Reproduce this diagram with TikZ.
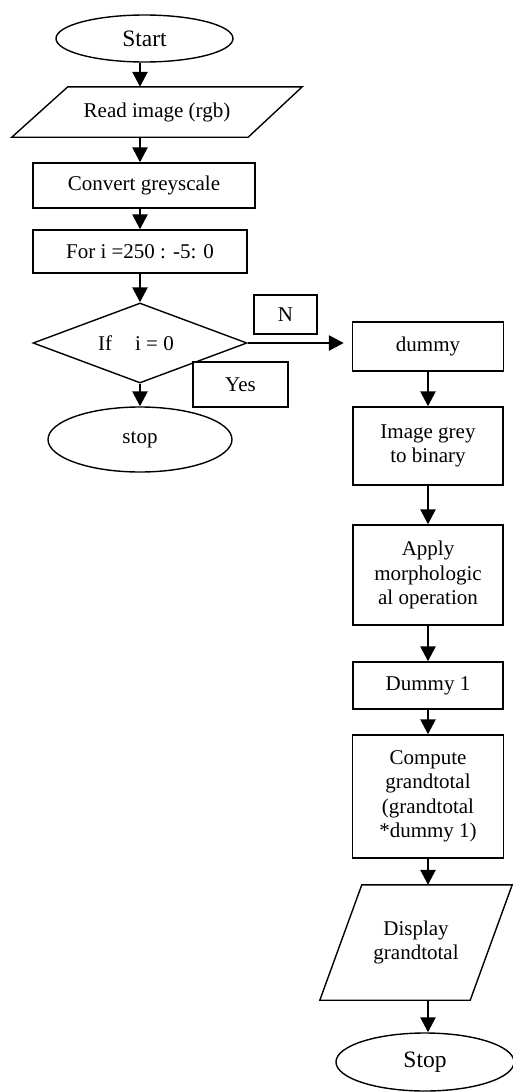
\documentclass[tikz,border=0pt]{standalone}
\usepackage{fontspec}
\setmainfont{Liberation Serif}
\usetikzlibrary{shapes.geometric,arrows.meta}
\begin{document}
\begin{tikzpicture}[x=1pt,y=-1pt,
  every node/.style={font=\fontsize{21}{24.5}\selectfont, inner sep=0pt, align=center},
  box/.style={draw, line width=1.4pt, rectangle, fill=white},
  term/.style={draw, line width=1.4pt, ellipse},
  big/.style={font=\fontsize{23.5}{27}\selectfont},
  dec/.style={draw, line width=1.4pt, diamond, aspect=2.7},
  io/.style={rectangle},
  ioline/.style={line width=1.4pt, line join=miter},
  arr/.style={line width=2.6pt, -{Triangle[length=15pt,width=15pt]}},
]
\fill[white] (0,0) rectangle (513,1092);
\useasboundingbox (0,0) rectangle (513,1092);

% left column
\node[term, big, minimum width=177pt, minimum height=47pt] (start) at (144.5,38.5) {Start};
\node[io, minimum width=290pt, minimum height=50pt] (read) at (157,112) {Read image (rgb)};
\draw[ioline] ([xshift=56pt]read.north west) -- (read.north east) -- ([xshift=-54pt]read.south east) -- (read.south west) -- cycle;
\node[box, minimum width=222pt, minimum height=45pt] (conv) at (144,185.5) {Convert greyscale};
\node[box, minimum width=214pt, minimum height=43pt] (for) at (140,251.5) {For i =250 : -5: 0};
\node[dec, minimum width=214pt, minimum height=80pt] (dia) at (140,343) {If\hspace{23pt}i = 0\hspace{8pt}};
\node[term, minimum width=184pt, minimum height=65pt] (stop) at (140,439.5) {stop};
\node[box, minimum width=63pt, minimum height=39pt] (n) at (285.5,314.5) {N};
\node[box, minimum width=95pt, minimum height=45pt] (yes) at (240.5,384.5) {Yes};

% right column
\node[box, minimum width=151pt, minimum height=49pt] (dummy) at (428,346.5) {dummy};
\node[box, minimum width=150pt, minimum height=78pt] (img) at (428,446) {Image grey\\to binary};
\node[box, minimum width=150pt, minimum height=100pt] (apply) at (428,575) {Apply\\morphologic\\al operation};
\node[box, minimum width=150pt, minimum height=47pt] (d1) at (428,685.5) {Dummy 1};
\node[box, minimum width=151pt, minimum height=123pt] (comp) at (428,796.5) {Compute\\grandtotal\\(grandtotal\\*dummy 1)};
\node[io, minimum width=192pt, minimum height=115pt] (disp) at (416,942.5) {Display\\grandtotal};
\draw[ioline] ([xshift=42pt]disp.north west) -- (disp.north east) -- ([xshift=-42pt]disp.south east) -- (disp.south west) -- cycle;
\node[term, big, minimum width=178pt, minimum height=58pt] (stop2) at (425,1062) {Stop};

% connectors
\draw[arr] (start.south -| dia.north) -- (read.north -| dia.north);
\draw[arr] (read.south -| dia.north) -- (conv.north -| dia.north);
\draw[arr] (conv.south -| dia.north) -- (for.north);
\draw[arr] (for.south) -- (dia.north);
\draw[arr] (dia.south) -- (stop.north);
\draw[arr, shorten >=8pt] (dia.east) -- (dia.east -| dummy.west);
\draw[arr] (dummy.south) -- (img.north);
\draw[arr] (img.south) -- (apply.north);
\draw[arr] (apply.south) -- (d1.north);
\draw[arr] (d1.south) -- (comp.north);
\draw[arr] (comp.south) -- (comp.south |- disp.north);
\draw[arr] (comp.south |- disp.south) -- (comp.south |- stop2.north);
\end{tikzpicture}
\end{document}
